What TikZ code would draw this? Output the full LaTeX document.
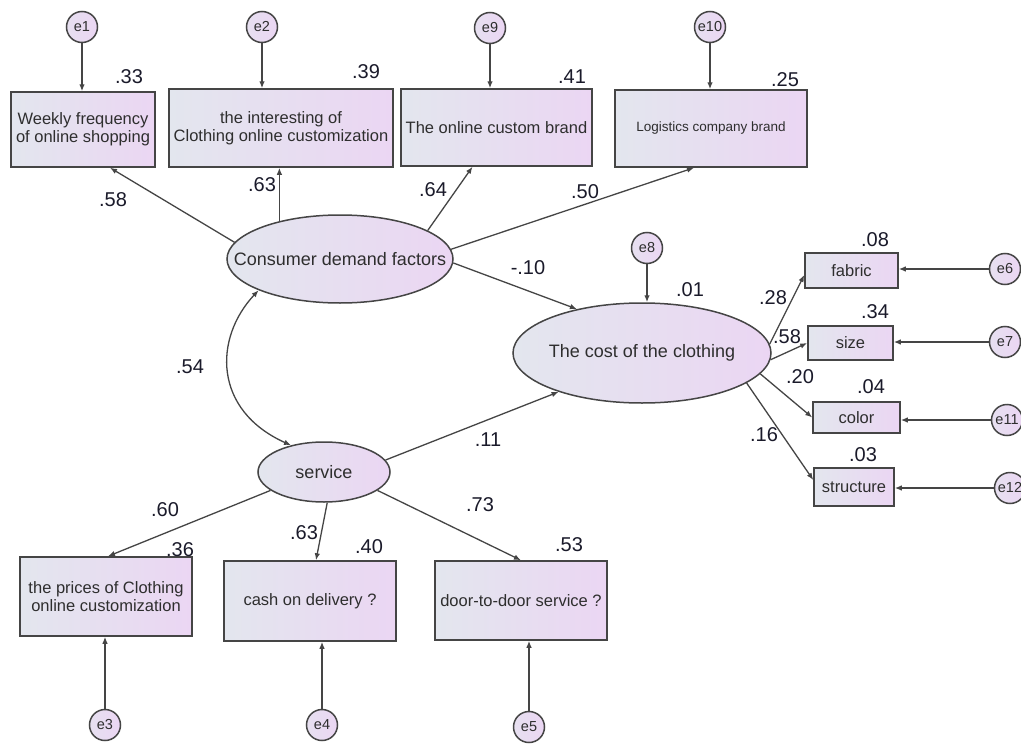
\documentclass[tikz,border=0pt]{standalone}
\usepackage{fontspec}
\setmainfont{Liberation Sans}
\usetikzlibrary{shapes.geometric,arrows.meta,calc}
\definecolor{fillL}{HTML}{E3E6EE}
\definecolor{fillR}{HTML}{EBD6F3}
\definecolor{edgec}{HTML}{454545}
\definecolor{txtc}{HTML}{2E2E2E}
\definecolor{numc}{HTML}{1A1A2A}
\begin{document}
\begin{tikzpicture}[x=1pt,y=-1pt,
 obs/.style={rectangle,draw=edgec,line width=1.5pt,left color=fillL,right color=fillR,inner sep=0pt,align=center,text=txtc,font=\fontsize{16.5}{18}\selectfont},
 lat/.style={ellipse,draw=edgec,line width=1.5pt,left color=fillL,right color=fillR,inner sep=0pt,text=txtc,font=\fontsize{18}{20}\selectfont},
 err/.style={circle,draw=edgec,line width=1.5pt,left color=fillL!60!fillR,right color=fillR,minimum size=31pt,inner sep=0pt,text=txtc,font=\fontsize{14.5}{16}\selectfont},
 num/.style={text=numc,font=\fontsize{20}{22}\selectfont,inner sep=0pt},
 arr/.style={draw=edgec,line width=1.3pt,-{Latex[length=7pt,width=5.5pt]}},
 dbl/.style={draw=edgec,line width=1.3pt,{Latex[length=7pt,width=5.5pt]}-{Latex[length=7pt,width=5.5pt]}}
]
\fill[white] (0,0) rectangle (1021,744);
\useasboundingbox (0,0) rectangle (1021,744);

% top indicators
\node[obs,minimum width=144pt,minimum height=75pt] (box1) at (83,129.5) {Weekly frequency\\of online shopping};
\node[obs,minimum width=224pt,minimum height=78pt] (box2) at (281,128) {the interesting of\\Clothing online customization};
\node[obs,minimum width=191pt,minimum height=77pt] (box3) at (496.5,127.5) {The online custom brand};
\node[obs,minimum width=192pt,minimum height=77pt,font=\fontsize{13.5}{15}\selectfont] (box4) at (711,128.5) {Logistics company brand};
\node[err] (e1) at (82,27) {e1};
\node[err] (e2) at (262,27) {e2};
\node[err] (e9) at (490,28) {e9};
\node[err] (e10) at (710,27) {e10};

% latent
\node[lat,minimum width=226pt,minimum height=88pt] (cdf) at (340,259) {\makebox[0pt]{Consumer demand factors}};
\node[lat,minimum width=258pt,minimum height=100pt] (cost) at (642,353) {\makebox[0pt]{The cost of the clothing}};
\node[lat,minimum width=132pt,minimum height=60pt] (svc) at (324,472) {\makebox[0pt]{service}};
\node[err] (e8) at (647,248) {e8};

% right indicators
\node[obs,minimum width=93pt,minimum height=35pt] (fabric) at (851.5,270.5) {fabric};
\node[obs,minimum width=85pt,minimum height=34pt] (size) at (850.5,343) {size};
\node[obs,minimum width=87pt,minimum height=31pt] (color) at (856.5,417.5) {color};
\node[obs,minimum width=80pt,minimum height=38pt] (struct) at (854,487) {structure};
\node[err] (e6) at (1005,269) {e6};
\node[err] (e7) at (1005,342) {e7};
\node[err] (e11) at (1007,420) {e11};
\node[err] (e12) at (1010,488) {e12};

% bottom indicators
\node[obs,minimum width=172pt,minimum height=79pt] (prices) at (106,596.5) {the prices of Clothing\\online customization};
\node[obs,minimum width=172pt,minimum height=80pt] (cash) at (310,601) {cash on delivery ?};
\node[obs,minimum width=172pt,minimum height=79pt] (door) at (521,600.5) {door-to-door service ?};
\node[err] (e3) at (105,725) {e3};
\node[err] (e4) at (322,725) {e4};
\node[err] (e5) at (529,727) {e5};

% error arrows
\draw[arr] (e1) -- (e1 |- box1.north);
\draw[arr] (e2) -- (e2 |- box2.north);
\draw[arr] (e9) -- (e9 |- box3.north);
\draw[arr] (e10) -- (e10 |- box4.north);
\draw[arr] (e8) -- (e8 |- cost.north);
\draw[arr] (e6) -- (e6 -| fabric.east);
\draw[arr] (e7) -- (e7 -| size.east);
\draw[arr] (e11) -- (e11 -| color.east);
\draw[arr] (e12) -- (e12 -| struct.east);
\draw[arr] (e3) -- (e3 |- prices.south);
\draw[arr] (e4) -- (e4 |- cash.south);
\draw[arr] (e5) -- (e5 |- door.south);

% structural arrows
\draw[arr] (cdf.171) -- ($(box1.south)+(27,0)$);
\draw[arr] (cdf.148) -- (cdf.148 |- box2.south);
\draw[arr] (cdf.18) -- ($(box3.south)+(-24,0)$);
\draw[arr] (cdf.5) -- ($(box4.south)+(-17,0)$);
\draw[arr] (cdf.-2) -- (cost.146);
\draw[dbl] (cdf.201) .. controls +(-45,48) and +(-78,-35) .. (svc.141);
\draw[arr] (svc.11) -- (cost.205);
\draw[arr] (svc.199) -- ($(prices.north)+(2,0)$);
\draw[arr] (svc.-84) -- ($(cash.north)+(6,0)$);
\draw[arr] (svc.-19) -- (door.north);
\draw[arr] (cost.4) -- ($(fabric.west)+(0,4.5)$);
\draw[arr] (cost.-3) -- (size.west);
\draw[arr] (cost.-10) -- (color.west);
\draw[arr] (cost.-16) -- ($(struct.west)+(0,-7)$);

% numbers
\node[num] (n1) at (129,77) {.33};
\node[num] (n2) at (366,72) {.39};
\node[num] (n3) at (572,77) {.41};
\node[num] (n4) at (785,80) {.25};
\node[num] (n5) at (113,200) {.58};
\node[num] (n6) at (262,185) {.63};
\node[num] (n7) at (433,190) {.64};
\node[num] (n8) at (585,192) {.50};
\node[num] (n9) at (528,268) {-.10};
\node[num] (n10) at (190,367) {.54};
\node[num] (n11) at (488,440) {.11};
\node[num] (n12) at (690,290) {.01};
\node[num] (n13) at (773,298) {.28};
\node[num] (n14) at (787,337) {.58};
\node[num] (n15) at (800,377) {.20};
\node[num] (n16) at (764,435) {.16};
\node[num] (n17) at (875,240) {.08};
\node[num] (n18) at (875,312) {.34};
\node[num] (n19) at (871,387) {.04};
\node[num] (n20) at (863,455) {.03};
\node[num] (n21) at (165,510) {.60};
\node[num] (n22) at (304,533) {.63};
\node[num] (n23) at (480,505) {.73};
\node[num] (n24) at (180,550) {.36};
\node[num] (n25) at (369,547) {.40};
\node[num] (n26) at (569,545) {.53};
\end{tikzpicture}
\end{document}
